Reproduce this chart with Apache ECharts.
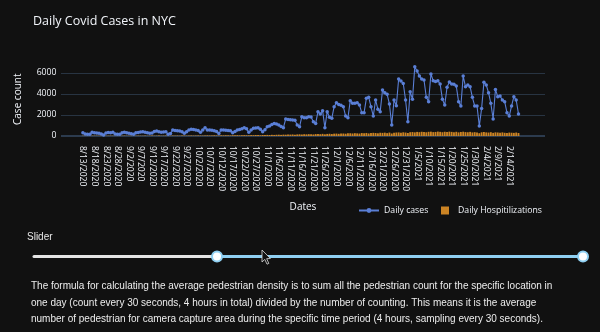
<!DOCTYPE html>
<html>
<head>
<meta charset="utf-8">
<script src="https://cdn.jsdelivr.net/npm/echarts@6/dist/echarts.min.js"></script>
<style>
  html, body { margin: 0; padding: 0; background: #111111; }
  #chart { width: 600px; height: 332px; }
</style>
</head>
<body>
<div id="chart"></div>
<script>
// NYC daily counts, one value per day starting 8/13/2020
const firstDay = Date.UTC(2020, 7, 13);

const dailyCases = [
  315, 200, 160, 160, 350, 310, 280, 255, 180, 95,
  290, 330, 320, 350, 200, 170, 160, 300, 350, 310,
  255, 220, 160, 315, 330, 370, 410, 360, 315, 255,
  280, 430, 475, 400, 350, 390, 410, 160, 240, 570,
  520, 500, 475, 400, 255, 410, 570, 635, 620, 570,
  520, 350, 560, 795, 570, 560, 540, 505, 420, 250,
  570, 560, 540, 530, 505, 320, 420, 570, 620, 700,
  795, 680, 350, 560, 730, 760, 795, 640, 410, 600,
  890, 950, 1100, 1200, 1150, 1050, 900, 795, 1620, 1580,
  1550, 1520, 1500,
  1050, 890, 1840, 1750, 1750, 1840, 1800,
  1360, 1200, 2320, 2100, 2410, 795, 2320, 1780, 1680, 2790,
  3170, 3010, 2920, 2790, 1900, 1750, 3360, 3110, 3110, 3170,
  2950, 2220, 2220, 3590, 3680, 2790, 1900, 3430, 2540, 2320,
  4380, 4130, 3970, 3050, 1050, 3430, 2890, 5430, 5240, 5010,
  3430, 1360, 4220, 3490, 6600, 6190, 5710, 5430, 5330, 3680,
  3270, 5900, 5270, 5200, 5270, 4950, 3490, 2950, 4640, 5140,
  4950, 4920, 4760, 3270, 2860, 5710, 4700, 4860, 4700, 3680,
  2860, 2860, 950, 2630, 5110, 4860, 4130, 3110, 1620, 4440,
  3750, 3810, 3430, 3270, 2220, 1900, 2860, 3750, 3430, 2100
];

const dailyHospitalizations = [
  24, 30, 22, 18, 27, 31, 26, 21, 29, 17,
  25, 28, 33, 23, 19, 26, 30, 24, 35, 22,
  28, 31, 20, 27, 34, 29, 25, 38, 23, 30,
  36, 27, 33, 41, 26, 31, 39, 28, 35, 42,
  33, 45, 30, 38, 47, 36, 41, 50, 39, 44,
  52, 46, 40, 55, 61, 48, 57, 63, 51, 45,
  66, 58, 70, 62, 54, 73, 67, 78, 60, 71,
  82, 75, 68, 88, 79, 93, 85, 72, 97, 90,
  104, 96, 112, 101, 118, 125, 108, 131, 122, 140,
  135, 148, 127, 152, 161, 143, 170, 158, 176, 165,
  150, 182, 191, 173, 205, 160, 198, 214, 187, 222,
  230, 209, 246, 238, 219, 255, 262, 241, 270, 252,
  236, 281, 266, 290, 247, 275, 302, 284, 259, 310,
  297, 318, 273, 326, 240, 305, 332, 341, 315, 350,
  328, 286, 362, 375, 348, 390, 366, 402, 381, 355,
  398, 412, 370, 386, 420, 395, 361, 404, 378, 415,
  392, 367, 401, 346, 384, 410, 372, 358, 393, 340,
  365, 331, 268, 352, 376, 344, 329, 362, 301, 348,
  335, 318, 342, 307, 290, 325, 312, 298, 330, 286
];

const seriesNames = ['Daily cases', 'Daily Hospitilizations'];
const yTicks = [0, 2000, 4000, 6000];
const chartTitle = 'Daily Covid Cases in NYC';
const sliderLabel = 'Slider';
const noteLines = [
  'The formula for calculating the average pedestrian density is to sum all the pedestrian count for the specific location in',
  'one day (count every 30 seconds, 4 hours in total) divided by the number of counting. This means it is the average',
  'number of pedestrian for camera capture area during the specific time period (4 hours, sampling every 30 seconds).'
];

// Calendar days shown on the axis on either side of the data
const leadDays = 9;
const trailDays = 11;

const DAY = 86400000;
function fmtDate(t) {
  const d = new Date(t);
  return (d.getUTCMonth() + 1) + '/' + d.getUTCDate() + '/' + d.getUTCFullYear();
}
const dates = dailyCases.map((_, i) => fmtDate(firstDay + i * DAY));
const axisDates = [];
for (let i = -leadDays; i < dates.length + trailDays; i++) axisDates.push(fmtDate(firstDay + i * DAY));

const lineColor = '#5a7fd6';
const barColor = '#cc8424';
const textColor = '#f2f5fa';
const gridColor = '#283442';
const plotFont = "'Open Sans', sans-serif";
const pageFont = "'Liberation Sans', Arial, sans-serif";

const chart = echarts.init(document.getElementById('chart'), null, { renderer: 'canvas' });

chart.setOption({
  backgroundColor: '#111111',
  animation: false,
  title: {
    text: chartTitle,
    left: 33, top: 15, padding: 0,
    textStyle: { color: textColor, fontSize: 12.5, fontWeight: 'normal', fontFamily: plotFont }
  },
  grid: { left: 61, width: 484, top: 62.5, height: 73.5, containLabel: false },
  legend: [
    {
      data: [seriesNames[0]], left: 358, top: 206, padding: 0,
      itemWidth: 20, itemHeight: 6,
      textStyle: { color: textColor, fontSize: 8.7, fontFamily: plotFont }
    },
    {
      data: [{ name: seriesNames[1], icon: 'rect' }], left: 441, top: 206, padding: 0,
      itemWidth: 8, itemHeight: 8,
      textStyle: { color: textColor, fontSize: 8.7, fontFamily: plotFont, padding: [0, 0, 0, 4] }
    }
  ],
  xAxis: {
    type: 'category',
    data: axisDates,
    boundaryGap: true,
    name: 'Dates',
    nameLocation: 'middle',
    nameGap: 66,
    nameTextStyle: { color: textColor, fontSize: 10, fontFamily: plotFont },
    axisLine: { show: false },
    axisTick: { show: false },
    splitLine: { show: false },
    axisLabel: {
      rotate: -90,
      margin: 10,
      color: textColor,
      fontSize: 8.5,
      fontFamily: plotFont,
      interval: function (idx) {
        const k = idx - leadDays;
        return k >= 0 && k < dates.length && k % 5 === 0;
      }
    }
  },
  yAxis: {
    type: 'value',
    min: yTicks[0],
    max: 7000,
    interval: yTicks[1] - yTicks[0],
    name: 'Case count',
    nameLocation: 'middle',
    nameRotate: 90,
    nameGap: 38,
    nameTextStyle: { color: textColor, fontSize: 10, fontFamily: plotFont },
    axisLine: { show: false },
    axisTick: { show: false },
    axisLabel: {
      color: textColor, fontSize: 8.7, fontFamily: plotFont, margin: 4.5,
      showMaxLabel: false,
      formatter: function (v) { return String(v); }
    },
    splitLine: { show: true, showMaxLine: false, lineStyle: { color: gridColor, width: 1 } }
  },
  series: [
    {
      name: seriesNames[0],
      type: 'line',
      data: dates.map((d, i) => [d, dailyCases[i]]),
      symbol: 'circle',
      symbolSize: 3.5,
      showSymbol: true,
      showAllSymbol: true,
      lineStyle: { color: lineColor, width: 1.1 },
      itemStyle: { color: lineColor },
      z: 4
    },
    {
      name: seriesNames[1],
      type: 'bar',
      data: dates.map((d, i) => [d, dailyHospitalizations[i]]),
      barWidth: '80%',
      itemStyle: { color: barColor },
      z: 3
    }
  ],
  graphic: [
    // zero line of the value axis
    { type: 'line', z: 2, shape: { x1: 61, y1: 136, x2: 545, y2: 136 }, style: { stroke: '#2c3b4e', lineWidth: 2 } },
    { type: 'text', style: { text: sliderLabel, x: 27, y: 237, verticalAlign: 'middle', fill: '#e8e8e8', font: '10px ' + pageFont } },
    { type: 'line', shape: { x1: 34, y1: 256.5, x2: 217, y2: 256.5 }, style: { stroke: '#e4e4e4', lineWidth: 3, lineCap: 'round' } },
    { type: 'line', shape: { x1: 217, y1: 256.5, x2: 583, y2: 256.5 }, style: { stroke: '#8fd0f2', lineWidth: 3 } },
    { type: 'circle', shape: { cx: 217, cy: 256.5, r: 5 }, style: { fill: '#ffffff', stroke: '#8fd0f2', lineWidth: 2 } },
    { type: 'circle', shape: { cx: 583, cy: 256.5, r: 5 }, style: { fill: '#ffffff', stroke: '#8fd0f2', lineWidth: 2 } },
    { type: 'polygon', z: 10, shape: { points: [[262, 250], [262, 262], [264.8, 259.4], [267, 264.2], [268.8, 263.4], [266.7, 258.7], [270.4, 258.5]] },
      style: { fill: '#111111', stroke: '#dddddd', lineWidth: 0.8 } },
    { type: 'text', style: { text: noteLines[0], x: 31, y: 286, verticalAlign: 'middle', fill: '#ececec', font: '10px ' + pageFont } },
    { type: 'text', style: { text: noteLines[1], x: 31, y: 303, verticalAlign: 'middle', fill: '#ececec', font: '10px ' + pageFont } },
    { type: 'text', style: { text: noteLines[2], x: 31, y: 319.5, verticalAlign: 'middle', fill: '#ececec', font: '10px ' + pageFont } }
  ]
});
</script>
</body>
</html>
